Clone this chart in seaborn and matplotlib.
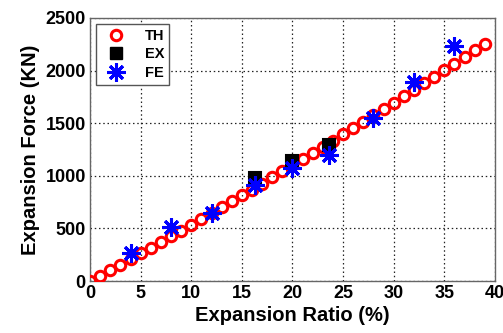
import numpy as np
import pandas as pd
import matplotlib
matplotlib.use('Agg')
import matplotlib.pyplot as plt
import seaborn as sns
from matplotlib.lines import Line2D

th_ratio = list(range(0, 40))
th_force = [0, 52, 105, 157, 210, 264, 317, 371, 426, 480,
            535, 590, 646, 701, 757, 814, 870, 927, 985, 1042,
            1100, 1158, 1217, 1275, 1334, 1394, 1453, 1513, 1574, 1634,
            1695, 1756, 1818, 1880, 1941, 2004, 2066, 2129, 2193, 2256]

# Experimental points (EX)
ex_ratio = [16.3, 20.0, 23.6]
ex_force = [975, 1140, 1295]

# Finite element points (FE)
fe_ratio = [4, 8, 12, 16.3, 20.0, 23.6, 28, 32, 36]
fe_force = [265, 515, 648, 910, 1070, 1198, 1546, 1893, 2234]

x_ticks = [0, 5, 10, 15, 20, 25, 30, 35, 40]
y_ticks = [0, 500, 1000, 1500, 2000, 2500]

sns.set_style('white')
plt.rcParams['font.family'] = ['Liberation Sans', 'DejaVu Sans']
plt.rcParams['font.weight'] = 'bold'
plt.rcParams['text.color'] = 'black'
plt.rcParams['axes.labelcolor'] = 'black'
plt.rcParams['xtick.color'] = 'black'
plt.rcParams['ytick.color'] = 'black'

fig = plt.figure(figsize=(5.03, 3.33), dpi=100)
ax = fig.add_axes([0.179, 0.156, 0.805, 0.790])

th = pd.DataFrame({'ratio': th_ratio, 'force': th_force})
ex = pd.DataFrame({'ratio': ex_ratio, 'force': ex_force})
fe = pd.DataFrame({'ratio': fe_ratio, 'force': fe_force})

sns.lineplot(data=th, x='ratio', y='force', ax=ax, linestyle='', marker='o',
             markersize=7.5, markerfacecolor='none', markeredgecolor='red',
             markeredgewidth=2.2, zorder=3)
sns.lineplot(data=ex, x='ratio', y='force', ax=ax, linestyle='', marker='s',
             markersize=9, markerfacecolor='black', markeredgecolor='black',
             markeredgewidth=1.5, zorder=4)
sns.lineplot(data=fe, x='ratio', y='force', ax=ax, linestyle='', marker=(8, 2, 0),
             markersize=13, markeredgecolor='blue', markeredgewidth=2.2, zorder=5)

ax.set_xlim(0, 40)
ax.set_ylim(0, 2500)
ax.set_xticks(x_ticks)
ax.set_yticks(y_ticks)
ax.tick_params(labelsize=13, direction='in', length=3, color='#555555', pad=3)
for lab in ax.get_xticklabels() + ax.get_yticklabels():
    lab.set_fontweight('bold')

ax.grid(True, linestyle=(0, (1.2, 2.2)), color='#222222', linewidth=0.9)
for s in ax.spines.values():
    s.set_color('#666666')
    s.set_linewidth(1.0)

ax.set_xlabel('Expansion Ratio (%)', fontsize=14.5, fontweight='bold', labelpad=3)
ax.set_ylabel('Expansion Force (KN)', fontsize=14.5, fontweight='bold', labelpad=4)

handles = [
    Line2D([], [], linestyle='', marker='o', markersize=7.5, markerfacecolor='none',
           markeredgecolor='red', markeredgewidth=2.2),
    Line2D([], [], linestyle='', marker='s', markersize=9, markerfacecolor='black',
           markeredgecolor='black'),
    Line2D([], [], linestyle='', marker=(8, 2, 0), markersize=13,
           markeredgecolor='blue', markeredgewidth=2.2),
]
leg = ax.legend(handles, ['TH', 'EX', 'FE'], loc='upper left',
                prop={'weight': 'bold', 'size': 10.5}, frameon=True, fancybox=False,
                framealpha=1, edgecolor='#555555', borderpad=0.35,
                handletextpad=1.0, labelspacing=0.3, borderaxespad=0.4)
leg.get_frame().set_linewidth(1.0)

fig.savefig('out.png', dpi=100)
